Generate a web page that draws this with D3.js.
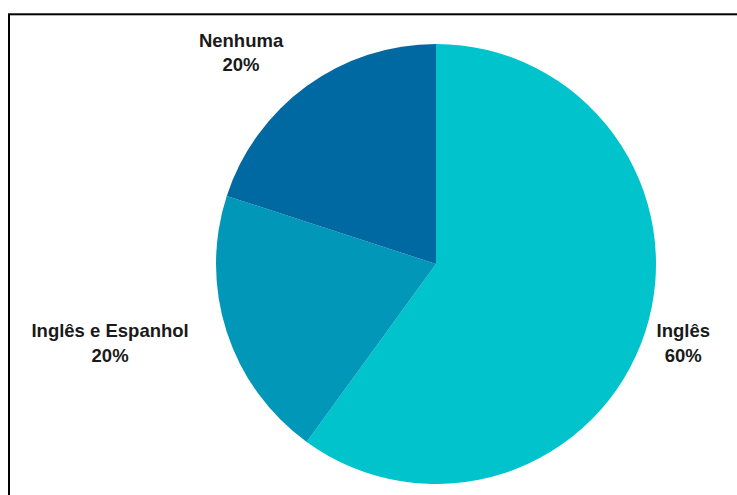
<!DOCTYPE html>
<html>
<head>
<meta charset="utf-8">
<script src="https://cdn.jsdelivr.net/npm/d3@7"></script>
<style>
  body { margin: 0; background: #fff; }
  svg { display: block; }
  .lbl { font-family: "Liberation Sans", Arial, sans-serif; font-weight: bold; font-size: 18.5px; fill: #1a1a1a; }
</style>
</head>
<body>
<svg id="chart" width="737" height="495"></svg>
<script>
// data
var categories = ["Inglês", "Inglês e Espanhol", "Nenhuma"];
var values = [60, 20, 20];
var colors = ["#00c3cc", "#0097b9", "#0069a1"];

var width = 737, height = 495;
var cx = 436, cy = 264, radius = 220;
var labelRadius = 260;

var svg = d3.select("#chart");

// frame
svg.append("rect")
    .attr("x", 9).attr("y", 14.3)
    .attr("width", 800).attr("height", 600)
    .attr("fill", "none")
    .attr("stroke", "#000")
    .attr("stroke-width", 2);

var total = d3.sum(values);
var rows = categories.map(function (c, i) { return {name: c, value: values[i], color: colors[i]}; });

var pie = d3.pie().sort(null).value(function (d) { return d.value; });
var arc = d3.arc().innerRadius(0).outerRadius(radius);

var g = svg.append("g").attr("transform", "translate(" + cx + "," + cy + ")");

var arcs = pie(rows);

g.selectAll("path.slice")
    .data(arcs)
    .enter().append("path")
    .attr("class", "slice")
    .attr("d", arc)
    .attr("fill", function (d) { return d.data.color; });

// labels
arcs.forEach(function (d) {
    var mid = (d.startAngle + d.endAngle) / 2;
    var x = labelRadius * Math.sin(mid);
    var y = -labelRadius * Math.cos(mid);
    var lines = [d.data.name, Math.round(d.data.value / total * 100) + "%"];

    var t = g.append("text")
        .attr("class", "lbl")
        .attr("text-anchor", "middle");
    lines.forEach(function (s, j) {
        t.append("tspan").attr("x", 0).attr("y", y - 7 + j * 24.5).text(s);
    });

    var w = 0;
    t.selectAll("tspan").each(function () { w = Math.max(w, this.getComputedTextLength()); });
    var centerX = x < 0 ? x - w / 2 : x;
    t.selectAll("tspan").attr("x", centerX);
});
</script>
</body>
</html>
